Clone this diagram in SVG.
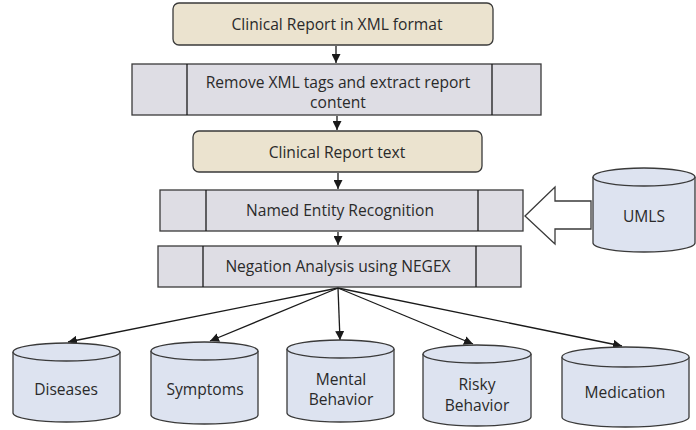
<svg xmlns="http://www.w3.org/2000/svg" width="696" height="430" viewBox="0 0 696 430">
<defs>
<style>
.t{font-family:"Open Sans","Liberation Sans",Arial,sans-serif;font-size:15.6px;fill:#2a2a2a;text-anchor:middle}
.tan{fill:#ebe3cf;stroke:#3a3a3a;stroke-width:1.3}
.proc{fill:#dedde4;stroke:#3a3a3a;stroke-width:1.3}
.cyl{fill:#dde3f0;stroke:#3a3a3a;stroke-width:1.3}
.ln{stroke:#1a1a1a;stroke-width:1.3;fill:none}
</style>
<marker id="ah" viewBox="0 0 10 10" refX="10" refY="5" markerWidth="9" markerHeight="9" markerUnits="userSpaceOnUse" orient="auto">
<path d="M0,0 L10,5 L0,10 z" fill="#1a1a1a"/>
</marker>
</defs>
<rect width="696" height="430" fill="#ffffff"/>

<g id="connectors">
<line class="ln" x1="336" y1="46" x2="336" y2="63" marker-end="url(#ah)"/>
<line class="ln" x1="337" y1="116" x2="337" y2="130" marker-end="url(#ah)"/>
<line class="ln" x1="338" y1="173" x2="338" y2="189" marker-end="url(#ah)"/>
<line class="ln" x1="338" y1="232" x2="338" y2="245" marker-end="url(#ah)"/>
<line class="ln" x1="338" y1="288" x2="68" y2="342" marker-end="url(#ah)"/>
<line class="ln" x1="338" y1="288" x2="210" y2="341" marker-end="url(#ah)"/>
<line class="ln" x1="338" y1="288" x2="340" y2="340" marker-end="url(#ah)"/>
<line class="ln" x1="338" y1="288" x2="473" y2="344" marker-end="url(#ah)"/>
<line class="ln" x1="338" y1="288" x2="622" y2="346" marker-end="url(#ah)"/>
<polygon points="525,216 555,187 555,201 591,201 591,229 555,229 555,244" fill="#ffffff" stroke="#3a3a3a" stroke-width="1.3"/>
</g>

<g id="n1">
<rect class="tan" x="173" y="3" width="320" height="42" rx="6"/>
<text class="t" x="337" y="30">Clinical Report in XML format</text>
</g>

<g id="n2">
<rect class="proc" x="132" y="64" width="409" height="51"/>
<line class="ln" x1="187" y1="64" x2="187" y2="115"/>
<line class="ln" x1="492" y1="64" x2="492" y2="115"/>
<text class="t" x="338" y="88">Remove XML tags and extract report</text>
<text class="t" x="338" y="108">content</text>
</g>

<g id="n3">
<rect class="tan" x="193" y="131" width="289" height="41" rx="6"/>
<text class="t" x="337" y="158">Clinical Report text</text>
</g>

<g id="n4">
<rect class="proc" x="160" y="190" width="363" height="41"/>
<line class="ln" x1="206" y1="190" x2="206" y2="231"/>
<line class="ln" x1="478" y1="190" x2="478" y2="231"/>
<text class="t" x="340" y="216">Named Entity Recognition</text>
</g>

<g id="n5">
<rect class="proc" x="158" y="246" width="363" height="41"/>
<line class="ln" x1="203" y1="246" x2="203" y2="287"/>
<line class="ln" x1="476" y1="246" x2="476" y2="287"/>
<text class="t" x="338" y="272">Negation Analysis using NEGEX</text>
</g>

<g id="umls">
<path class="cyl" d="M593,177 L593,243 A51,9 0 0 0 695,243 L695,177 A51,9 0 0 0 593,177 Z"/>
<path class="cyl" d="M593,177 A51,9 0 0 0 695,177"/>
<text class="t" x="644" y="222">UMLS</text>
</g>

<g id="diseases">
<path class="cyl" d="M13,352 L13,413 A53.5,9 0 0 0 120,413 L120,352 A53.5,9 0 0 0 13,352 Z"/>
<path class="cyl" d="M13,352 A53.5,9 0 0 0 120,352"/>
<text class="t" x="66" y="395">Diseases</text>
</g>

<g id="symptoms">
<path class="cyl" d="M151,351 L151,415 A53.5,9 0 0 0 258,415 L258,351 A53.5,9 0 0 0 151,351 Z"/>
<path class="cyl" d="M151,351 A53.5,9 0 0 0 258,351"/>
<text class="t" x="205" y="395">Symptoms</text>
</g>

<g id="mental">
<path class="cyl" d="M287,349 L287,413 A53.5,9 0 0 0 394,413 L394,349 A53.5,9 0 0 0 287,349 Z"/>
<path class="cyl" d="M287,349 A53.5,9 0 0 0 394,349"/>
<text class="t" x="341" y="385">Mental</text>
<text class="t" x="341" y="405">Behavior</text>
</g>

<g id="risky">
<path class="cyl" d="M423,354 L423,417 A54,9 0 0 0 531,417 L531,354 A54,9 0 0 0 423,354 Z"/>
<path class="cyl" d="M423,354 A54,9 0 0 0 531,354"/>
<text class="t" x="477" y="390">Risky</text>
<text class="t" x="477" y="411">Behavior</text>
</g>

<g id="medication">
<path class="cyl" d="M562,357 L562,417 A63.5,10 0 0 0 689,417 L689,357 A63.5,10 0 0 0 562,357 Z"/>
<path class="cyl" d="M562,357 A63.5,10 0 0 0 689,357"/>
<text class="t" x="625" y="398">Medication</text>
</g>
</svg>
